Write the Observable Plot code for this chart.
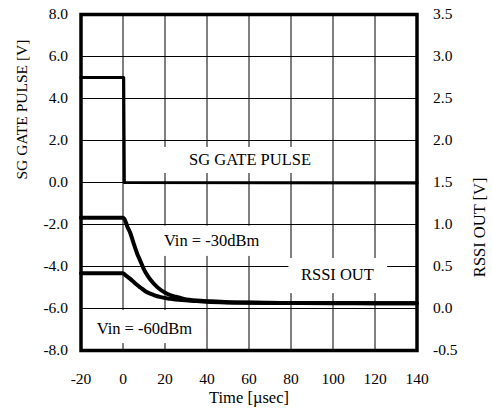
<!DOCTYPE html>
<html><head><meta charset="utf-8">
<script src="https://cdn.jsdelivr.net/npm/d3@7"></script>
<script src="https://cdn.jsdelivr.net/npm/@observablehq/plot@0.6"></script>
<style>
body{margin:0;background:#fff;}
</style>
</head><body><div id="chart"></div>
<script>
// Axis ticks
const xTicks = [-20, 0, 20, 40, 60, 80, 100, 120, 140];
const leftTicks = [-8, -6, -4, -2, 0, 2, 4, 6, 8];
const rightTicks = [-0.5, 0, 0.5, 1.0, 1.5, 2.0, 2.5, 3.0, 3.5];

// SG gate pulse (left axis, V) vs time (µsec)
const pulseT = [-20, 0.3, 0.6, 140];
const pulseV = [5.0, 5.0, 0.0, -0.02];

// RSSI OUT (right axis, V), Vin = -30dBm
const rssi30T = [-20, 0, 1, 2, 3.6, 5, 6.8, 8, 9.9, 12, 14.7, 18, 21, 25, 29, 35, 41.7, 50, 60, 80, 100, 120, 140];
const rssi30V = [1.08, 1.08, 1.05, 0.98, 0.89, 0.78, 0.65, 0.58, 0.47, 0.38, 0.295, 0.22, 0.175, 0.14, 0.115, 0.095, 0.085, 0.075, 0.07, 0.065, 0.065, 0.063, 0.063];

// RSSI OUT (right axis, V), Vin = -60dBm
const rssi60T = [-20, 0, 1, 3.6, 6, 8.3, 11, 14.7, 18, 22.6, 28, 33.7, 40, 50, 60, 80, 100, 120, 140];
const rssi60V = [0.42, 0.42, 0.40, 0.35, 0.295, 0.25, 0.2, 0.16, 0.135, 0.115, 0.1, 0.09, 0.08, 0.072, 0.068, 0.065, 0.063, 0.063, 0.063];

// Annotation labels
const labelTexts = ["SG GATE PULSE", "Vin = -30dBm", "RSSI OUT", "Vin = -60dBm"];

// right axis (-0.5..3.5 V) maps onto left axis (-8..8 V)
const toLeft = r => 4 * r - 6;
const fromLeft = v => (v + 6) / 4;

const pulse = pulseT.map((t, i) => ({t, v: pulseV[i]}));
const r30 = rssi30T.map((t, i) => ({t, v: rssi30V[i]}));
const r60 = rssi60T.map((t, i) => ({t, v: rssi60V[i]}));

const labels = [
  {text: labelTexts[0], x: 60.5, y: 1.1, x1: 13, x2: 96, y1: 0.43, y2: 1.67},
  {text: labelTexts[1], x: 42.2, y: -2.76, x1: 17, x2: 70, y1: -3.52, y2: -2.08},
  {text: labelTexts[2], x: 102.1, y: -4.38, x1: 79, x2: 126, y1: -5.29, y2: -3.62},
  {text: labelTexts[3], x: 10.2, y: -6.95, x1: -18, x2: 37, y1: -7.67, y2: -6.1}
];

const font = "Liberation Serif";

const chart = Plot.plot({
  width: 492,
  height: 417,
  marginLeft: 80.5,
  marginRight: 75.5,
  marginTop: 14,
  marginBottom: 67,
  style: {fontFamily: font, fontSize: "15px", background: "white", color: "black"},
  x: {domain: [-20, 140]},
  y: {domain: [-8, 8]},
  marks: [
    Plot.gridX(xTicks, {stroke: "black", strokeOpacity: 1, strokeWidth: 1}),
    Plot.gridY(leftTicks, {stroke: "black", strokeOpacity: 1, strokeWidth: 1}),
    Plot.rect(labels, {x1: "x1", x2: "x2", y1: "y1", y2: "y2", fill: "white"}),
    Plot.text(labels, {x: "x", y: "y", text: "text", fontSize: 16.5, fontFamily: font, fill: "black"}),
    Plot.line(r60, {x: "t", y: d => toLeft(d.v), stroke: "black", strokeWidth: 4, curve: "monotone-x"}),
    Plot.line(r30, {x: "t", y: d => toLeft(d.v), stroke: "black", strokeWidth: 4, curve: "monotone-x"}),
    Plot.line(pulse, {x: "t", y: "v", stroke: "black", strokeWidth: 3.2}),
    Plot.frame({stroke: "black", strokeWidth: 3.5}),
    Plot.axisX(xTicks, {tickSize: 0, tickPadding: 22, tickFormat: d => String(d), label: null, fontSize: 15.5, fontFamily: font}),
    Plot.axisY(leftTicks, {anchor: "left", tickSize: 0, tickPadding: 13, tickFormat: d => d.toFixed(1), label: null, fontSize: 15.5, fontFamily: font}),
    Plot.axisY(rightTicks.map(toLeft), {anchor: "right", tickSize: 0, tickPadding: 16, tickFormat: v => fromLeft(v).toFixed(1), label: null, fontSize: 15.5, fontFamily: font}),
    Plot.text(["SG GATE PULSE [V]"], {frameAnchor: "left", text: d => d, rotate: -90, dx: -59, dy: -3, fontSize: 15.5, fontFamily: font}),
    Plot.text(["RSSI OUT [V]"], {frameAnchor: "right", text: d => d, rotate: -90, dx: 62.5, dy: -5, fontSize: 16.5, fontFamily: font}),
    Plot.text(["Time [µsec]"], {frameAnchor: "bottom", text: d => d, dy: 52, fontSize: 16.5, fontFamily: font})
  ]
});
document.getElementById("chart").appendChild(chart);
</script>
</body></html>
